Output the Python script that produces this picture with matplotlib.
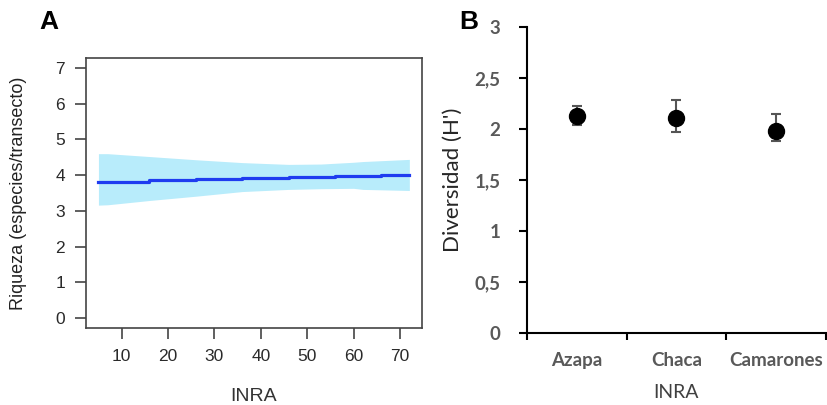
import numpy as np
import matplotlib.pyplot as plt

# ---- panel A data ----
inra_steps = [5, 16, 26, 36, 46, 56, 66, 72]
riqueza_fit = [3.82, 3.85, 3.88, 3.91, 3.94, 3.97, 4.00, 4.00]
band_x = [5, 7, 16, 26, 36, 46, 53, 60, 62, 72]
band_hi = [4.60, 4.60, 4.52, 4.43, 4.35, 4.30, 4.31, 4.36, 4.38, 4.44]
band_lo = [3.16, 3.17, 3.29, 3.41, 3.54, 3.60, 3.62, 3.63, 3.60, 3.57]

# ---- panel B data ----
sitios = ["Azapa", "Chaca", "Camarones"]
diversidad = [2.13, 2.11, 1.98]
err_up = [0.095, 0.18, 0.17]
err_dn = [0.095, 0.14, 0.10]

fig = plt.figure(figsize=(8.27, 4.05), dpi=100)

# ---------------- A ----------------
axA = fig.add_axes([0.104, 0.19, 0.406, 0.667])
axA.fill_between(band_x, band_lo, band_hi, color="#b8ecfb", lw=0)
axA.step(inra_steps, riqueza_fit, where="post", color="#1f3cf0", lw=2.3)
axA.set_xlim(2.32, 74.68)
axA.set_ylim(-0.28, 7.28)
axA.set_xticks(range(10, 71, 10))
axA.set_yticks(range(0, 8))
for s in axA.spines.values():
    s.set_color("#444444")
    s.set_linewidth(1.2)
axA.tick_params(colors="#444444", length=8, width=1.2, labelsize=12.5,
                labelcolor="#2a2a2a", pad=7)
for lab in axA.get_xticklabels() + axA.get_yticklabels():
    lab.set_family("Liberation Sans")
axA.set_xlabel("INRA", family="Liberation Sans", fontsize=14, color="#333333", va="center")
axA.xaxis.set_label_coords(0.5, -0.255)
axA.set_ylabel("Riqueza (especies/transecto)", family="Liberation Sans", fontsize=13,
               color="#222222", va="center")
axA.yaxis.set_label_coords(-0.2, 0.5)
fig.text(0.059, 0.945, "A", family="Liberation Sans", fontweight="bold",
         fontsize=19, ha="center", va="center")

# ---------------- B ----------------
axB = fig.add_axes([0.637, 0.178, 0.362, 0.755])
xpos = np.arange(len(sitios))
axB.errorbar(xpos, diversidad, yerr=[err_dn, err_up], fmt="o", color="black",
             ms=11.5, ecolor="#555555", elinewidth=1.5, capsize=3.5, capthick=1.5)
axB.set_xlim(-0.5, 2.5)
axB.set_ylim(0, 3)
axB.set_yticks([0, 0.5, 1, 1.5, 2, 2.5, 3])
axB.set_yticklabels(["0", "0,5", "1", "1,5", "2", "2,5", "3"])
axB.set_xticks(xpos)
axB.set_xticklabels(sitios)
axB.set_xticks([-0.5, 0.5, 1.5, 2.5], minor=True)
axB.tick_params(axis="x", which="major", length=0, pad=14)
axB.tick_params(axis="x", which="minor", length=5, width=1.5, direction="out")
axB.tick_params(axis="y", length=6, width=1.5, pad=13)
for lab in axB.get_xticklabels() + axB.get_yticklabels():
    lab.set_family("Lato")
    lab.set_fontweight("bold")
    lab.set_fontsize(13.5)
    lab.set_color("#595959")
axB.spines["top"].set_visible(False)
axB.spines["right"].set_visible(False)
axB.spines["left"].set_linewidth(1.5)
axB.spines["bottom"].set_linewidth(1.5)
axB.set_xlabel("INRA", family="Lato", fontsize=14, color="#404040", va="center")
axB.xaxis.set_label_coords(0.5, -0.196)
axB.set_ylabel("Diversidad (H')", family="Lato", fontsize=16, color="#262626", va="center")
axB.yaxis.set_label_coords(-0.247, 0.5)
fig.text(0.567, 0.945, "B", family="Liberation Sans", fontweight="bold",
         fontsize=19, ha="center", va="center")

fig.savefig("out.png", dpi=100)
